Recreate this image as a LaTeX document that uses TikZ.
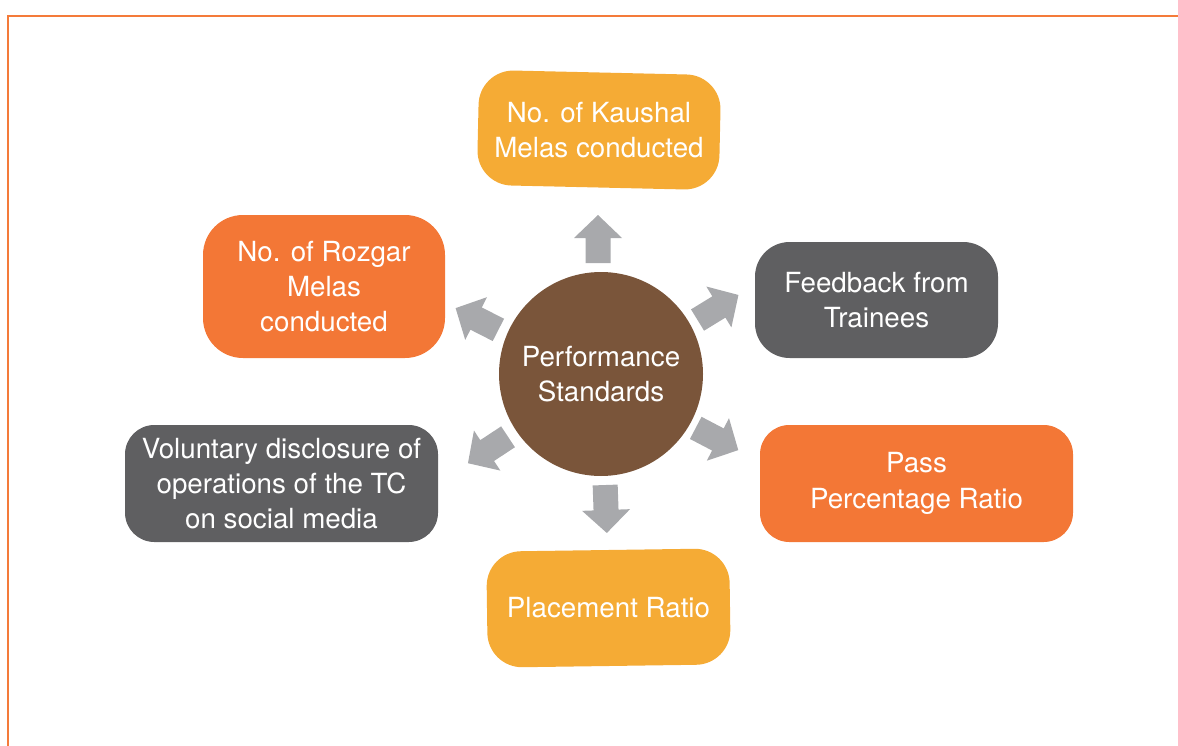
\documentclass[tikz,border=0pt]{standalone}
\usepackage{fontspec}
\setmainfont{TeX Gyre Heros}
\definecolor{ylw}{HTML}{F5AB35}
\definecolor{org}{HTML}{F37736}
\definecolor{gry}{HTML}{5F5F61}
\definecolor{brn}{HTML}{7A553A}
\definecolor{arr}{HTML}{A8A9AC}
\definecolor{frame}{HTML}{F47B3A}
\tikzset{
  txt/.style={inner sep=0pt, align=center, text=white,
    font=\fontsize{20.8}{26.4}\selectfont},
  box/.style={txt, rounded corners=26pt},
  barrow/.pic={\fill[arr] (-24,-12.5)--(1,-12.5)--(1,-24)--(24,0)--(1,24)--(1,12.5)--(-24,12.5)--cycle;}
}
\begin{document}
\begin{tikzpicture}[x=0.75pt,y=-0.75pt]
\useasboundingbox (0,0) rectangle (1178,746);
\draw[frame,line width=1.6pt] (8,746) -- (8,16) -- (1178,16);
% center
\node[txt, circle, fill=brn, minimum size=204*0.75pt] (c) at (601,374) {Performance\\Standards};
% boxes (tilted ones: shape drawn first, text kept level)
\fill[ylw, rounded corners=26pt, rotate around={-1.3:(599,130)}] (478,72.5) rectangle (720,187.5);
\node[txt, minimum width=242*0.75pt, minimum height=115*0.75pt] (kaushal) at (599,130) {No. of Kaushal\\Melas conducted};
\fill[ylw, rounded corners=26pt, rotate around={0.8:(608.5,608)}] (487,550) rectangle (730,666);
\node[txt, minimum width=243*0.75pt, minimum height=116*0.75pt] (placement) at (608.5,608) {Placement Ratio};
\node[box, fill=org, minimum width=242*0.75pt, minimum height=143*0.75pt, rounded corners=30pt] (rozgar) at (324,286.5) {No. of Rozgar\\Melas\\conducted};
\node[box, fill=gry, minimum width=243*0.75pt, minimum height=116*0.75pt] (feedback) at (876.5,300) {Feedback from\\Trainees};
\node[box, fill=org, minimum width=313*0.75pt, minimum height=117*0.75pt, rounded corners=22pt] (pass) at (916.5,483.5) {Pass\\Percentage Ratio};
\node[box, fill=gry, minimum width=313*0.75pt, minimum height=117*0.75pt, rounded corners=22pt] (voluntary) at (281.5,483.5) {Voluntary disclosure of\\operations of the TC\\on social media};
% arrows
\pic[rotate=90] at (598,239) {barrow};
\pic[rotate=-88] at (606,509) {barrow};
\pic[rotate=153] at (477,319) {barrow};
\pic[rotate=31.5] at (718,307.5) {barrow};
\pic[rotate=-27.6] at (717,439) {barrow};
\pic[rotate=213.4] at (488,450) {barrow};
\end{tikzpicture}
\end{document}
